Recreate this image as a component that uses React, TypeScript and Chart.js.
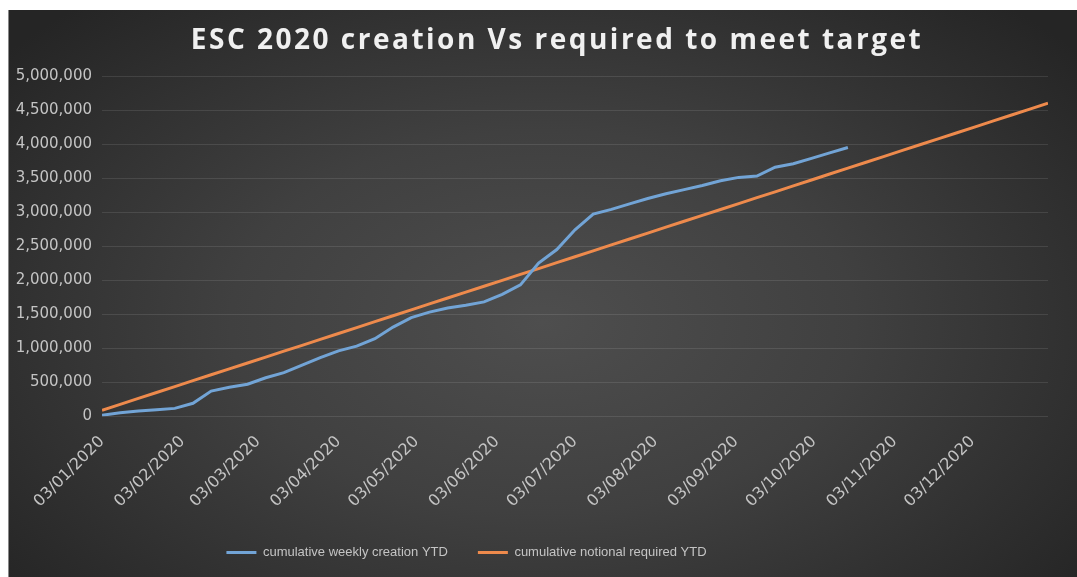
import { useEffect, useRef } from "react";
import { Chart, registerables } from "chart.js";

Chart.register(...registerables);

const TITLE = "ESC 2020 creation Vs required to meet target";
const SERIES_A = "cumulative weekly creation YTD";
const SERIES_B = "cumulative notional required YTD";

const weekDates = [
  "03/01/2020", "10/01/2020", "17/01/2020", "24/01/2020", "31/01/2020",
  "07/02/2020", "14/02/2020", "21/02/2020", "28/02/2020",
  "06/03/2020", "13/03/2020", "20/03/2020", "27/03/2020",
  "03/04/2020", "10/04/2020", "17/04/2020", "24/04/2020",
  "01/05/2020", "08/05/2020", "15/05/2020", "22/05/2020", "29/05/2020",
  "05/06/2020", "12/06/2020", "19/06/2020", "26/06/2020",
  "03/07/2020", "10/07/2020", "17/07/2020", "24/07/2020", "31/07/2020",
  "07/08/2020", "14/08/2020", "21/08/2020", "28/08/2020",
  "04/09/2020", "11/09/2020", "18/09/2020", "25/09/2020",
  "02/10/2020", "09/10/2020", "16/10/2020", "23/10/2020", "30/10/2020",
  "06/11/2020", "13/11/2020", "20/11/2020", "27/11/2020",
  "04/12/2020", "11/12/2020", "18/12/2020", "25/12/2020",
  "01/01/2021",
];

const weeklyCreation = [
  15000, 50000, 75000, 95000, 115000, 190000, 370000, 425000, 470000, 565000,
  640000, 750000, 860000, 960000, 1030000, 1140000, 1310000, 1450000, 1530000, 1590000,
  1630000, 1680000, 1790000, 1930000, 2250000, 2450000, 2740000, 2970000, 3040000, 3120000,
  3200000, 3270000, 3330000, 3390000, 3460000, 3510000, 3530000, 3660000, 3710000, 3790000,
  3870000, 3950000,
];

const notionalRequired = [
  88000, 175000, 262000, 348000, 435000, 522000, 609000, 695000, 782000, 869000,
  956000, 1042000, 1129000, 1216000, 1303000, 1390000, 1476000, 1563000, 1650000, 1737000,
  1823000, 1910000, 1997000, 2084000, 2170000, 2257000, 2344000, 2431000, 2518000, 2604000,
  2691000, 2778000, 2865000, 2951000, 3038000, 3125000, 3212000, 3298000, 3385000, 3472000,
  3559000, 3646000, 3732000, 3819000, 3906000, 3993000, 4079000, 4166000, 4253000, 4340000,
  4427000, 4513000, 4600000,
];

const monthTickLabels = [
  "03/01/2020", "03/02/2020", "03/03/2020", "03/04/2020", "03/05/2020", "03/06/2020",
  "03/07/2020", "03/08/2020", "03/09/2020", "03/10/2020", "03/11/2020", "03/12/2020",
];

const Y_MIN = 0;
const Y_MAX = 5000000;
const Y_STEP = 500000;

function dayOffset(s: string): number {
  const [d, m, y] = s.split("/").map(Number);
  return Math.round((Date.UTC(y, m - 1, d) - Date.UTC(2020, 0, 3)) / 86400000);
}

export default function App() {
  const canvasRef = useRef<HTMLCanvasElement | null>(null);

  useEffect(() => {
    if (!canvasRef.current) return;
    const tickLabelByDay: Record<number, string> = {};
    monthTickLabels.forEach((l) => {
      tickLabelByDay[dayOffset(l)] = l;
    });
    const tickColor = "#c4c4c4";

    const chart = new Chart(canvasRef.current, {
      type: "line",
      data: {
        datasets: [
          {
            label: SERIES_A,
            data: weeklyCreation.map((v, i) => ({ x: dayOffset(weekDates[i]), y: v })),
            borderColor: "#72a4d6",
            backgroundColor: "#72a4d6",
            borderWidth: 3,
            pointRadius: 0,
            tension: 0,
          },
          {
            label: SERIES_B,
            data: notionalRequired.map((v, i) => ({ x: dayOffset(weekDates[i]), y: v })),
            borderColor: "#ee8a4c",
            backgroundColor: "#ee8a4c",
            borderWidth: 3,
            pointRadius: 0,
            tension: 0,
          },
        ],
      },
      options: {
        animation: false,
        responsive: true,
        maintainAspectRatio: false,
        layout: { padding: { left: 0, right: 29, top: 66, bottom: 8 } },
        plugins: {
          title: { display: false },
          legend: {
            position: "bottom",
            labels: {
              color: "#c4c4c4",
              font: { family: "Liberation Sans", size: 13 },
              usePointStyle: true,
              pointStyle: "line",
              pointStyleWidth: 30,
              padding: 30,
            },
          },
          tooltip: { enabled: false },
        },
        scales: {
          x: {
            type: "linear",
            min: 0,
            max: dayOffset(weekDates[weekDates.length - 1]),
            grid: { display: false },
            border: { display: false },
            afterBuildTicks: (scale: any) => {
              scale.ticks = monthTickLabels.map((l) => ({ value: dayOffset(l) }));
            },
            afterFit: (s: any) => {
              s.height = s.height - 3;
            },
            ticks: {
              color: tickColor,
              font: { family: "DejaVu Sans", size: 16 },
              minRotation: 45,
              maxRotation: 45,
              autoSkip: false,
              padding: 8,
              callback: (v: any) => tickLabelByDay[Number(v)] ?? "",
            },
          },
          y: {
            min: Y_MIN,
            max: Y_MAX,
            grid: { color: "rgba(255,255,255,0.10)", drawTicks: false },
            border: { display: false },
            ticks: {
              stepSize: Y_STEP,
              color: tickColor,
              font: { family: "DejaVu Sans", size: 15 },
              padding: 10,
              callback: (v: any) => Number(v).toLocaleString("en-US"),
            },
            afterFit: (s: any) => {
              s.width = 93;
            },
          },
        },
      },
      plugins: [
        {
          id: "legendShift",
          afterLayout(c: any) {
            if (c.legend) {
              c.legend.left -= 62;
              c.legend.right -= 62;
            }
          },
        },
        {
          id: "spacedTitle",
          afterDraw(c: any) {
            const ctx = c.ctx;
            ctx.save();
            ctx.font = "bold 28px 'Open Sans'";
            ctx.letterSpacing = "2.5px";
            ctx.fillStyle = "#f0f0f0";
            ctx.textAlign = "center";
            ctx.textBaseline = "middle";
            ctx.fillText(TITLE, 548, 31);
            ctx.restore();
          },
        },
      ],
    } as any);

    return () => chart.destroy();
  }, []);

  return (
    <div
      style={{
        position: "fixed",
        left: 8,
        top: 10,
        width: 1069,
        height: 567,
        background:
          "radial-gradient(ellipse 65% 75% at 50% 55%, #4e4e4e 0%, #404040 45%, #252525 100%)",
        borderLeft: "1px solid #888",
        boxSizing: "border-box",
      }}
    >
      <canvas ref={canvasRef} />
    </div>
  );
}
